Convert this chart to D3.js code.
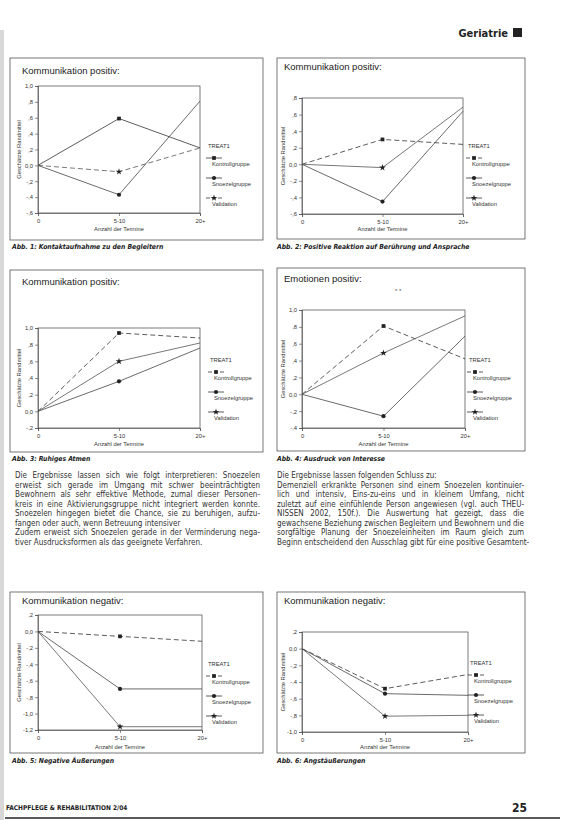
<!DOCTYPE html>
<html><head><meta charset="utf-8">
<script src="https://cdn.jsdelivr.net/npm/d3@7"></script>
<style>body{margin:0;background:#fff}svg{display:block}</style>
</head><body>
<svg id="page" width="565" height="820"></svg>
<script>
// ---------- DATA ----------
const categories = ["0", "5-10", "20+"];
const seriesNames = ["Kontrollgruppe", "Snoezelgruppe", "Validation"];
const legendTitle = "TREAT1";
const titles = ["Kommunikation positiv:", "Kommunikation positiv:", "Kommunikation positiv:",
                "Emotionen positiv:", "Kommunikation negativ:", "Kommunikation negativ:"];
const captions = ["Abb. 1: Kontaktaufnahme zu den Begleitern",
                  "Abb. 2: Positive Reaktion auf Berührung und Ansprache",
                  "Abb. 3: Ruhiges Atmen",
                  "Abb. 4: Ausdruck von Interesse",
                  "Abb. 5: Negative Äußerungen",
                  "Abb. 6: Angstäußerungen"];
const yAxisLabel = "Geschätzte Randmittel";
const xAxisLabel = "Anzahl der Termine";

const fig1Values = [[0, 0.59, 0.22], [0, -0.37, 0.81], [0, -0.08, 0.22]];
const fig2Values = [[0, 0.30, 0.24], [0, -0.45, 0.64], [0, -0.04, 0.69]];
const fig3Values = [[0, 0.94, 0.88], [0, 0.36, 0.76], [0, 0.60, 0.82]];
const fig4Values = [[0, 0.81, 0.42], [0, -0.26, 0.69], [0, 0.49, 0.93]];
const fig5Values = [[0, -0.06, -0.12], [0, -0.70, -0.70], [0, -1.16, -1.16]];
const fig6Values = [[0, -0.48, -0.31], [0, -0.54, -0.56], [0, -0.81, -0.80]];

const fig1Ticks = [1.0, 0.8, 0.6, 0.4, 0.2, 0.0, -0.2, -0.4, -0.6];
const fig2Ticks = [0.8, 0.6, 0.4, 0.2, 0.0, -0.2, -0.4, -0.6];
const fig3Ticks = [1.0, 0.8, 0.6, 0.4, 0.2, 0.0, -0.2];
const fig4Ticks = [1.0, 0.8, 0.6, 0.4, 0.2, 0.0, -0.2, -0.4];
const fig5Ticks = [0.2, 0.0, -0.2, -0.4, -0.6, -0.8, -1.0, -1.2];
const fig6Ticks = [0.2, 0.0, -0.2, -0.4, -0.6, -0.8, -1.0];

const leftText = [
  "Die Ergebnisse lassen sich wie folgt interpretieren: Snoezelen",
  "erweist sich gerade im Umgang mit schwer beeinträchtigten",
  "Bewohnern als sehr effektive Methode, zumal dieser Personen-",
  "kreis in eine Aktivierungsgruppe nicht integriert werden konnte.",
  "Snoezelen hingegen bietet die Chance, sie zu beruhigen, aufzu-",
  "fangen oder auch, wenn Betreuung intensiver",
  "Zudem erweist sich Snoezelen gerade in der Verminderung nega-",
  "tiver Ausdrucksformen als das geeignete Verfahren."];
const rightText = [
  "Die Ergebnisse lassen folgenden Schluss zu:",
  "Demenziell erkrankte Personen sind einem Snoezelen kontinuier-",
  "lich und intensiv, Eins-zu-eins und in kleinem Umfang, nicht",
  "zuletzt auf eine einfühlende Person angewiesen (vgl. auch THEU-",
  "NISSEN 2002, 150f.). Die Auswertung hat gezeigt, dass die",
  "gewachsene Beziehung zwischen Begleitern und Bewohnern und die",
  "sorgfältige Planung der Snoezeleinheiten im Raum gleich zum",
  "Beginn entscheidend den Ausschlag gibt für eine positive Gesamtent-"];

// ---------- LAYOUT / STYLE ----------
const figs = [
  {vals: fig1Values, ticks: fig1Ticks, box:[10,58,263,240], plot:[38,86,200,213], leg:[208,148], dash:[false,false,true], title:[22,74], cap:[12,249], xl:231},
  {vals: fig2Values, ticks: fig2Ticks, box:[277,58,525,239], plot:[302,98,463,214], leg:[468,148], dash:[true,false,false], title:[284,70], cap:[277,249], xl:231},
  {vals: fig3Values, ticks: fig3Ticks, box:[10,270,263,452], plot:[38,328,200,428], leg:[210,362], dash:[true,false,false], title:[22,285], cap:[12,461], xl:446},
  {vals: fig4Values, ticks: fig4Ticks, box:[277,268,525,451], plot:[302,310,465,428], leg:[469,362], dash:[true,false,false], title:[284,282], cap:[277,461], xl:446},
  {vals: fig5Values, ticks: fig5Ticks, box:[10,592,263,753], plot:[38,615,202,730], leg:[208,666], dash:[true,false,false], title:[22,604], cap:[12,763], xl:749},
  {vals: fig6Values, ticks: fig6Ticks, box:[277,592,525,753], plot:[302,632,468,732], leg:[470,665], dash:[true,false,false], title:[284,604], cap:[277,763], xl:749}
];
const lineColors = ["#333", "#444", "#555"];
const symbols = [d3.symbolSquare, d3.symbolCircle, d3.symbolStar];
const sans = "'Liberation Sans', Arial, sans-serif";
const cond = "'DejaVu Sans Condensed','DejaVu Sans',sans-serif";

const svg = d3.select("#page");
svg.append("rect").attr("x",0).attr("y",0).attr("width",565).attr("height",820).attr("fill","#fff");
svg.append("rect").attr("x",0).attr("y",30).attr("width",4).attr("height",790).attr("fill","#d8d8d8");

// header
svg.append("text").attr("x",508).attr("y",37).attr("text-anchor","end")
  .attr("font-family",cond).attr("font-weight","bold")
  .attr("font-size",11).attr("fill","#222").text("Geriatrie");
svg.append("rect").attr("x",513).attr("y",28).attr("width",9).attr("height",9).attr("fill","#222");

const fmt = v => {
  if (Math.abs(v) < 1e-9) return "0,0";
  let s = d3.format(".1f")(Math.abs(v)).replace(".", ",");
  if (Math.abs(v) < 1) s = s.replace(/^0/, "");
  return (v < 0 ? "-" : "") + s;
};

figs.forEach((f, i) => {
  const g = svg.append("g");
  const [bx0, by0, bx1, by1] = f.box;
  g.append("rect").attr("x",bx0).attr("y",by0).attr("width",bx1-bx0).attr("height",by1-by0)
    .attr("fill","none").attr("stroke","#555").attr("stroke-width",0.8);
  g.append("text").attr("x",f.title[0]).attr("y",f.title[1]).attr("font-family",sans)
    .attr("font-size",9.5).attr("fill","#222").text(titles[i]);
  if (i === 3) g.append("text").attr("x",395).attr("y",293).attr("font-family",sans)
    .attr("font-size",6).attr("fill","#555").text("* *");

  const [px0, py0, px1, py1] = f.plot;
  const x = d3.scalePoint().domain(categories).range([px0, px1]).padding(0);
  const y = d3.scaleLinear().domain([d3.min(f.ticks), d3.max(f.ticks)]).range([py1, py0]);

  g.append("rect").attr("x",px0).attr("y",py0).attr("width",px1-px0).attr("height",py1-py0)
    .attr("fill","none").attr("stroke","#444").attr("stroke-width",0.7);

  const ya = g.append("g").attr("transform",`translate(${px0},0)`)
    .call(d3.axisLeft(y).tickValues(f.ticks).tickFormat(fmt).tickSize(3).tickPadding(2));
  ya.selectAll("text").attr("font-family",sans).attr("font-size",5.8).attr("fill","#333");
  ya.selectAll("line,path").attr("stroke","#444").attr("stroke-width",0.6);

  const xa = g.append("g").attr("transform",`translate(0,${py1})`)
    .call(d3.axisBottom(x).tickSize(3).tickPadding(3));
  xa.selectAll("text").attr("font-family",sans).attr("font-size",5.8).attr("fill","#333");
  xa.selectAll("line,path").attr("stroke","#444").attr("stroke-width",0.6);

  g.append("text").attr("transform",`translate(${px0-17},${(py0+py1)/2}) rotate(-90)`)
    .attr("text-anchor","middle").attr("font-family",sans).attr("font-size",5.8).attr("fill","#333").text(yAxisLabel);
  g.append("text").attr("x",(px0+px1)/2).attr("y",f.xl).attr("text-anchor","middle")
    .attr("font-family",sans).attr("font-size",5.8).attr("fill","#333").text(xAxisLabel);

  const line = d3.line().x((d, j) => x(categories[j])).y(d => y(d));
  f.vals.forEach((vals, s) => {
    g.append("path").attr("d", line(vals)).attr("fill","none").attr("stroke",lineColors[s])
      .attr("stroke-width",0.8).attr("stroke-dasharray", f.dash[s] ? "5,3" : null);
    g.selectAll(null).data(vals.slice(1, 2)).enter().append("path")
      .attr("transform", d => `translate(${x(categories[1])},${y(d)})`)
      .attr("d", d3.symbol().type(symbols[s]).size(14)).attr("fill","#222");
  });

  const [lx, ly] = f.leg;
  g.append("text").attr("x",lx).attr("y",ly).attr("font-family",sans).attr("font-size",5.8)
    .attr("fill","#333").text(legendTitle);
  seriesNames.forEach((nm, s) => {
    const yy = ly + 10 + s * 20;
    g.append("line").attr("x1",lx-2).attr("x2",lx+14).attr("y1",yy).attr("y2",yy)
      .attr("stroke","#333").attr("stroke-width",0.8).attr("stroke-dasharray", f.dash[s] ? "4,2" : null);
    g.append("path").attr("transform",`translate(${lx+6},${yy})`)
      .attr("d", d3.symbol().type(symbols[s]).size(14)).attr("fill","#222");
    g.append("text").attr("x",lx+4).attr("y",yy+8).attr("font-family",sans).attr("font-size",5.8)
      .attr("fill","#333").text(nm);
  });

  svg.append("text").attr("x",f.cap[0]).attr("y",f.cap[1]).attr("font-family",cond)
    .attr("font-style","italic").attr("font-weight","bold").attr("font-size",6.8).attr("fill","#222").text(captions[i]);
});

// body text columns, justified via word spacing
function column(lines, x0, width, y0, shortLines) {
  lines.forEach((t, k) => {
    const el = svg.append("text").attr("x",x0).attr("y",y0 + k * 9.5)
      .attr("font-family",cond).attr("font-size",8).attr("fill","#333").text(t);
    const full = k < lines.length - 1 && !shortLines.includes(k);
    if (full) {
      const w = el.node().getComputedTextLength();
      const gaps = t.split(" ").length - 1;
      if (gaps > 0) {
        const ws = (width - w) / gaps;
        if (ws >= 0) el.attr("word-spacing", ws);
        else el.attr("textLength", width).attr("lengthAdjust", "spacingAndGlyphs");
      }
    }
  });
}
column(leftText, 15, 245, 478, [5]);
column(rightText, 277, 247, 478, [0]);

// footer
svg.append("text").attr("x",6).attr("y",810).attr("font-family",cond)
  .attr("font-weight","bold").attr("font-size",6.5).attr("fill","#222").text("FACHPFLEGE & REHABILITATION 2/04");
svg.append("text").attr("x",527).attr("y",812).attr("text-anchor","end")
  .attr("font-family",cond).attr("font-weight","bold")
  .attr("font-size",12).attr("fill","#222").text("25");
svg.append("line").attr("x1",5).attr("x2",560).attr("y1",818).attr("y2",818).attr("stroke","#222").attr("stroke-width",1.5);
</script>
</body></html>
